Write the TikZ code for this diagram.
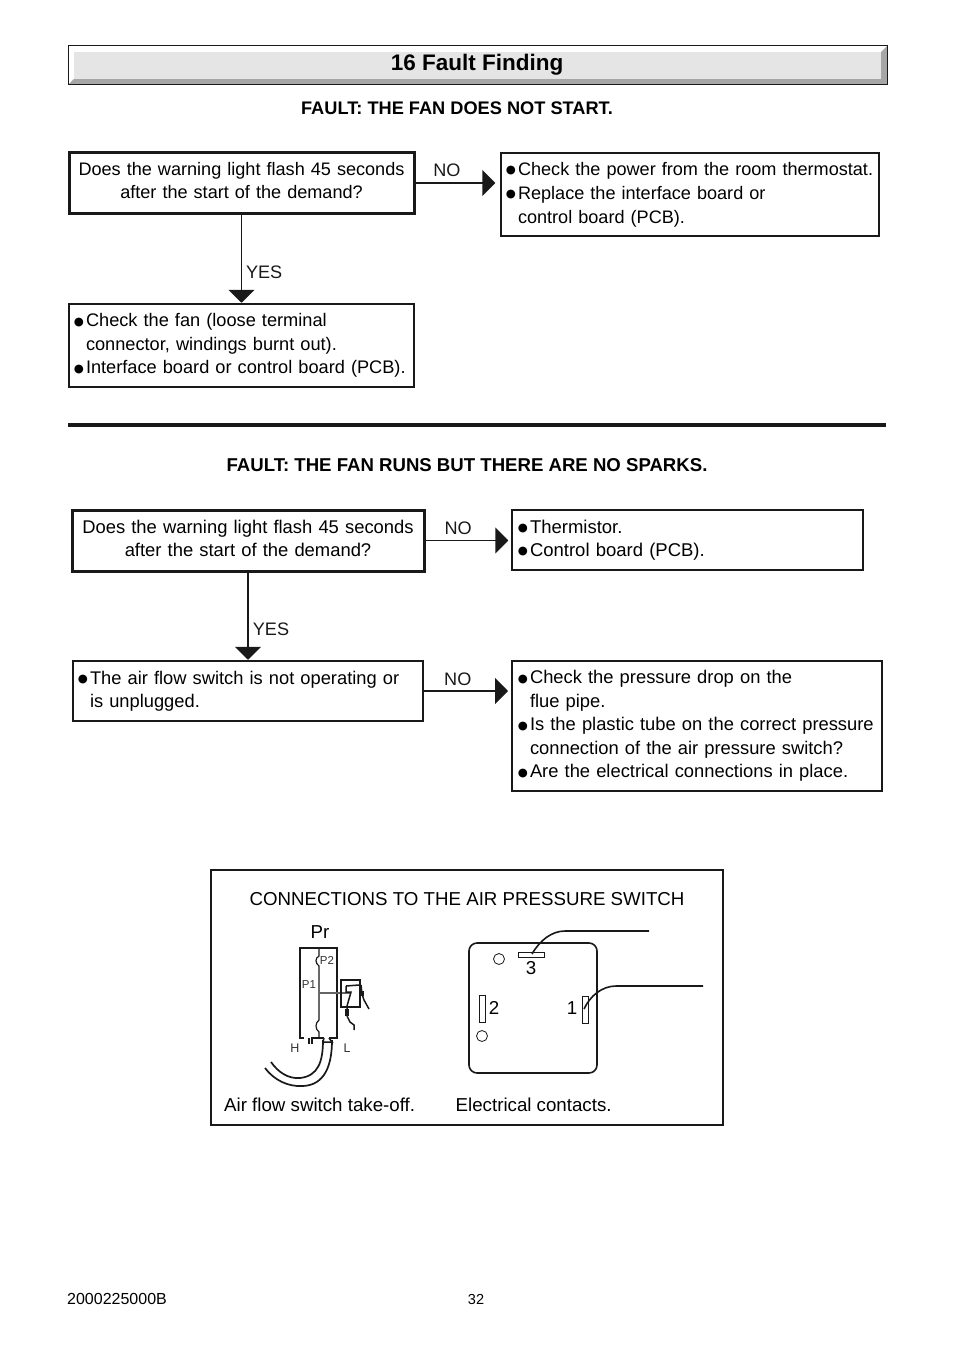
\documentclass[tikz,border=0pt]{standalone}
\usepackage{fontspec}
\setmainfont{Liberation Sans}
\newfontfamily\dvfont{DejaVu Sans}
\usetikzlibrary{arrows.meta}
\newcommand{\bl}{\leavevmode\llap{\raisebox{1.5pt}{\dvfont\fontsize{11.5}{11.5}\selectfont ●}\hspace{2pt}}}
\newcommand{\lift}[1]{\par\kern#1pt}
\tikzset{
  x=1pt,y=-1pt,
  ink/.style={draw=black!90},
  body/.style={font=\fontsize{18.1}{23}\selectfont},
  type/.style 2 args={font=\fontsize{#1}{#2}\selectfont},
  thin box/.style={ink,line width=1.5pt,inner sep=0pt,body,fill=white},
  thick box/.style={thin box,line width=3pt},
  mid box/.style={thin box,line width=2pt},
  size/.style 2 args={minimum width=#1pt,minimum height=#2pt,text width=#1pt},
  centred/.style={align=center},
  lefted/.style={align=left,execute at begin node={\leftskip=#1pt}},
  arrowline/.style={black!90,line width=1.8pt,-{Triangle[length=13pt,width=26pt]}},
  title/.style={inner sep=0pt},
  lbl/.style={body,inner sep=0pt},
  panel text/.style={font=\fontsize{18.7}{23}\selectfont,inner sep=0pt},
  small/.style={font=\fontsize{11.5}{14}\selectfont,inner sep=0pt,text=black!80},
  part/.style={black!90,line width=1.5pt},
  wire/.style={black!90,line width=1.6pt}
}
\begin{document}
\begin{tikzpicture}
\useasboundingbox (0,0) rectangle (954,1351);
% header
\fill[white] (68,46) rectangle (887,85);
\fill[gray!60!black!50] (68,85) -- (74,79) -- (881,79) -- (881,52) -- (887,46) -- (887,85) -- cycle;
\fill[black!10] (74,52) rectangle (881,79);
\draw[ink,line width=1pt] (68,46) rectangle (887,85);
\node[font=\fontsize{22.5}{26}\selectfont\bfseries,inner sep=0pt] (head) at (477,65) {16 Fault Finding};
\node[title,font=\fontsize{18.2}{22}\selectfont\bfseries] (f1) at (457,108.5) {FAULT: THE FAN DOES NOT START.};
% first chart
\node[thick box,size={345}{60},centred] (q1) at (241.5,183) {Does the warning light flash 45 seconds\\after the start of the demand?\lift{5}};
\node[thin box,size={378}{83},lefted=17,type={18.1}{24}] (r1) at (690,194.5) {\bl Check the power from the room thermostat.\\\bl Replace the interface board or\\control board (PCB).};
\node[thin box,size={345}{83},lefted=17,type={18.2}{23.6}] (r2) at (241.5,345.5) {\bl Check the fan (loose terminal\\connector, windings burnt out).\\\bl Interface board or control board (PCB).};
\draw[arrowline,shorten >=5pt] (q1.east) -- (q1.east -| r1.west) node[lbl,pos=0.37,above=5pt] (n1) {NO};
\draw[arrowline,line width=1.2pt,shorten >=0.5pt] (q1.south) -- (r2.north) node[lbl,pos=0.65,right=4pt] (y1) {YES};
% rule
\coordinate (ra) at (68,425);
\coordinate (rb) at (886,425);
\draw[black!90,line width=3.5pt] (ra) -- (rb);
\node[title,font=\fontsize{18.6}{22}\selectfont\bfseries] (f2) at (467,465.5) {FAULT: THE FAN RUNS BUT THERE ARE NO SPARKS.};
% second chart
\node[thick box,size={352}{61},centred,type={18.4}{23}] (q2) at (248,540.5) {Does the warning light flash 45 seconds\\after the start of the demand?\lift{4}};
\node[thin box,size={351}{60},lefted=18,type={18.5}{23}] (r3) at (687.5,540) {\bl Thermistor.\\\bl Control board (PCB).};
\node[thin box,size={350}{60},lefted=17,type={18.3}{23}] (q3) at (248,691) {\bl The air flow switch is not operating or\\is unplugged.};
\node[mid box,size={370}{130},lefted=18,type={18.35}{23.4}] (r4) at (697,726) {\bl Check the pressure drop on the\\flue pipe.\\\bl Is the plastic tube on the correct pressure\\connection of the air pressure switch?\\\bl Are the electrical connections in place.};
\draw[arrowline,shorten >=3pt] (q2.east) -- (q2.east -| r3.west) node[lbl,pos=0.38,above=5pt] (n2) {NO};
\draw[arrowline,shorten >=0.5pt] (q2.south) -- (q3.north) node[lbl,pos=0.65,right=4pt] (y2) {YES};
\draw[arrowline,shorten >=3pt] (q3.east) -- (q3.east -| r4.west) node[lbl,pos=0.39,above=4pt] (n3) {NO};
% connections panel
\node[thin box,minimum width=512pt,minimum height=255pt] (panel) at (467,997.5) {};
\node[panel text] (pt) at (467,899.5) {CONNECTIONS TO THE AIR PRESSURE SWITCH};
\node[panel text] (pr) at (320,932) {Pr};
\node[panel text,anchor=west] (c1) at (224,1104.5) {Air flow switch take-off.};
\node[panel text,anchor=west] (c2) at (455.5,1104.5) {Electrical contacts.};
% air flow switch
\draw[part,line width=1.6pt] (304,1038) -- (300,1038) -- (300,948) -- (337,948) -- (337,1038) -- (329,1038);
\draw[part] (309,1038) -- (309,1044) (312,1044) -- (312,1038) -- (324,1038);
\draw[part,line width=1.2pt] (319,948) -- (319,956) .. controls (315,958) and (315,963) .. (319,966) -- (319,1020) .. controls (315,1023) and (315,1029) .. (319,1032) -- (319,1038);
\draw[black!60,line width=1.6pt] (319,993) -- (350,993);
\draw[part] (341,980) rectangle (360,1007);
\draw[part] (346,986) -- (359,985) (346,986) -- (346,992) -- (351,992) -- (347,1006) -- (347,1012);
\draw[part] (361,985) -- (362,994) (362,994) -- (364,1000) -- (369,1009);
\fill[black!90] (345,1009) rectangle (349,1016);
\fill[black!90] (361,991) rectangle (364,996);
\draw[part] (347,1016) -- (350,1022) -- (354,1025) -- (354,1030);
\draw[part,line width=1.7pt] (323,1040) .. controls (323,1062) and (318,1076) .. (300,1078) .. controls (288,1079) and (278,1072) .. (271,1062);
\draw[part,line width=1.7pt] (332,1040) .. controls (332,1065) and (325,1085) .. (303,1086) .. controls (288,1087) and (274,1080) .. (265,1068);
\draw[part] (324,1038) -- (323,1042) -- (332,1042) -- (329,1038);
\node[small] (p2) at (327,960) {P2};
\node[small] (p1) at (309,985) {P1};
\node[small,font=\fontsize{12.5}{14}\selectfont] (h) at (295,1048) {H};
\node[small,font=\fontsize{12.5}{14}\selectfont] (l) at (347,1048) {L};
% electrical contacts
\draw[part,line width=1.6pt,rounded corners=8pt] (469,943) rectangle (597,1073);
\draw[black!90,line width=0.8pt] (499,959) circle (5.5);
\draw[black!90,line width=0.8pt] (482,1036) circle (5.5);
\draw[black!90,line width=0.9pt,fill=white] (518,952) rectangle (544,957);
\draw[black!90,line width=0.9pt,fill=white] (479,995) rectangle (485,1022);
\draw[black!90,line width=0.9pt,fill=white] (582,996) rectangle (588,1023);
\draw[wire] (532,954) .. controls (540,940) and (552,931) .. (565,931) -- (649,931);
\draw[wire] (584,1009) .. controls (590,996) and (602,986) .. (616,986) -- (703,986);
\node[panel text] (k3) at (531,968) {3};
\node[panel text] (k2) at (494,1008) {2};
\node[panel text] (k1) at (572,1008) {1};
% footer
\node[inner sep=0pt,anchor=west,font=\fontsize{16}{18}\selectfont] (code) at (67,1298.5) {2000225000B};
\node[inner sep=0pt,font=\fontsize{14.5}{16}\selectfont] (page) at (476,1299) {32};
\end{tikzpicture}
\end{document}
